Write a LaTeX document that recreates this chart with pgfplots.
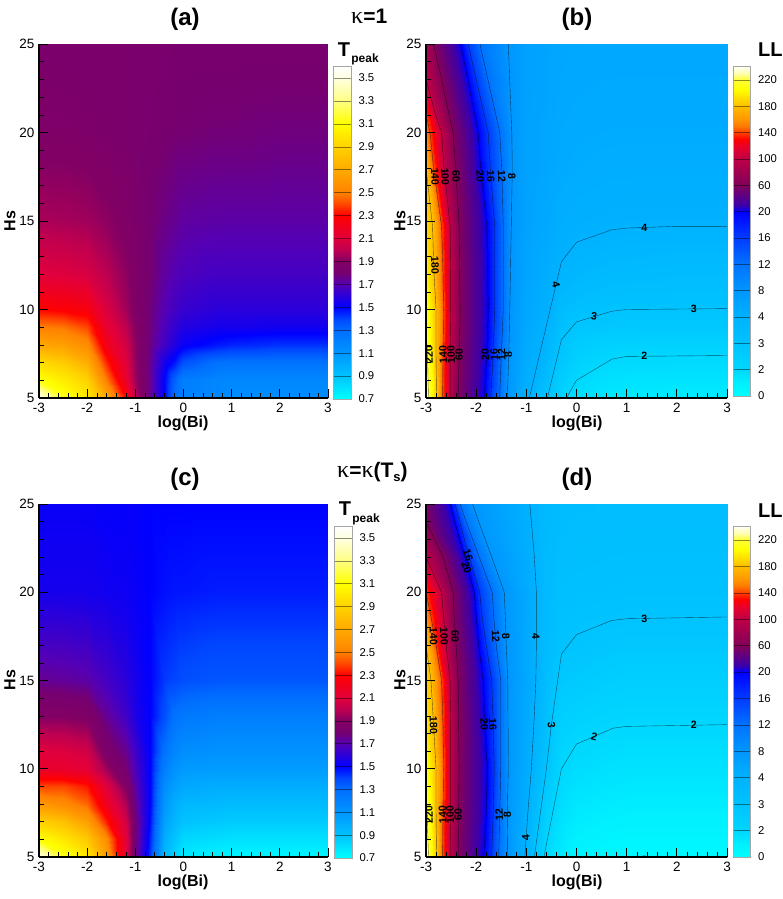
\documentclass[border=0pt]{standalone}
\usepackage{fontspec}
\setmainfont{Liberation Sans}
\newfontfamily\symfont{Liberation Serif}
\usepackage{pgfplots}
\pgfplotsset{compat=1.18}

% colour scales, stops in data units
\pgfplotsset{
  colormap={tpeak}{
    rgb255(0.7)=(0,255,255) rgb255(0.9)=(0,195,255) rgb255(1.1)=(0,150,255)
    rgb255(1.3)=(0,110,255) rgb255(1.4)=(0,70,255) rgb255(1.5)=(0,0,255)
    rgb255(1.7)=(85,0,180) rgb255(1.8)=(118,0,112) rgb255(1.9)=(130,0,100)
    rgb255(2.0)=(190,0,80) rgb255(2.1)=(225,0,60) rgb255(2.3)=(255,0,0)
    rgb255(2.4)=(255,70,0) rgb255(2.5)=(255,130,0) rgb255(2.7)=(255,170,0)
    rgb255(2.9)=(255,210,0) rgb255(3.1)=(255,255,0) rgb255(3.3)=(255,255,130)
    rgb255(3.5)=(255,255,225) rgb255(3.605)=(255,255,255)
  },
  colormap={ll}{
    rgb255(0)=(0,255,255) rgb255(1)=(0,240,255) rgb255(2)=(0,215,255)
    rgb255(3)=(0,195,255) rgb255(4)=(0,178,255) rgb255(8)=(0,150,255)
    rgb255(12)=(0,115,255) rgb255(16)=(0,60,255) rgb255(20)=(0,0,255)
    rgb255(30)=(60,0,170) rgb255(60)=(130,0,90) rgb255(100)=(190,0,70)
    rgb255(120)=(235,0,40) rgb255(130)=(255,0,0) rgb255(140)=(255,60,0)
    rgb255(150)=(255,120,0) rgb255(160)=(255,150,0)
    rgb255(180)=(255,190,0) rgb255(205)=(255,255,0) rgb255(220)=(255,255,50)
    rgb255(230)=(255,255,180) rgb255(240)=(255,255,250)
  },
  mainax/.style={
    scale only axis, anchor=south west,
    xmin=-3, xmax=3, ymin=5, ymax=25,
    xtick={-3,-2,-1,0,1,2,3}, ytick={5,10,15,20,25},
    minor tick num=4,
    axis x line*=bottom, axis y line*=left,
    axis line style={line width=1.2pt,-},
    tick align=inside,
    major tick length=9pt, minor tick length=4.5pt,
    every tick/.style={black,line width=0.9pt},
    minor tick style={line width=0.4pt,black},
    axis on top,
    tick label style={font=\fontsize{13.5}{14}\selectfont},
    /pgf/number format/assume math mode=true,
    xticklabel style={yshift=-2pt}, yticklabel style={xshift=-1pt},
    clip=true,
  },
  barax/.style={
    scale only axis, anchor=south west, width=17.5pt,
    xmin=0, xmax=1, xtick=\empty,
    yticklabel pos=right,
    major tick length=0pt,
    ymajorgrids, grid style={black,opacity=0.45,line width=0.5pt},
    axis on top, axis line style={black!35,line width=0.6pt},
    tick label style={font=\fontsize{11.3}{12}\selectfont},
    yticklabel style={xshift=4pt},
    /pgf/number format/assume math mode=true,
    clip=true,
  },
  tbar/.style={barax, ymin=0.7, ymax=3.605, colormap name=tpeak,
    point meta min=0.7, point meta max=3.605,
    ytick={0.7,0.9,1.1,1.3,1.5,1.7,1.9,2.1,2.3,2.5,2.7,2.9,3.1,3.3,3.5},
    yticklabels={0.7,0.9,1.1,1.3,1.5,1.7,1.9,2.1,2.3,2.5,2.7,2.9,3.1,3.3,3.5}},
  lbar/.style={barax, ymin=0, ymax=12.53, colormap name=ll,
    point meta min=0, point meta max=240,
    ytick={0,1,2,3,4,5,6,7,8,9,10,11,12},
    yticklabels={0,2,3,4,8,12,16,20,60,100,140,180,220}},
  cline/.style={black,opacity=0.6,line width=0.4pt,forget plot},
}
\tikzset{
  lab/.style={font=\fontsize{10.6}{11}\selectfont\bfseries,inner sep=0pt},
  ttl/.style={font=\fontsize{24}{24}\selectfont\bfseries},
  axl/.style={font=\fontsize{16}{16}\selectfont\bfseries},
}

\begin{document}
\begin{tikzpicture}
\path[use as bounding box] (0pt,0pt) rectangle (782pt,899pt);

% ---- (a) ----
\begin{axis}[mainax, at={(39pt,501pt)}, width=289pt, height=354pt,
  colormap name=tpeak, point meta min=0.7, point meta max=3.605]
\addplot[surf,shader=interp,mesh/cols=14,point meta=explicit] table[row sep=\\,meta=c] {
x y c\\
-3 5 3.55\\ -2.5 5 3.15\\ -2 5 3.0\\ -1.6 5 2.7\\ -1.2 5 2.3\\ -1 5 2.0\\ -.7 5 1.75\\ -.4 5 1.5\\ -.2 5 1.3\\ 0 5 1.2\\ .7 5 1.17\\ 1 5 1.15\\ 2 5 1.15\\ 3 5 1.15\\
-3 6 3.12\\ -2.5 6 3.02\\ -2 6 2.9\\ -1.6 6 2.5\\ -1.2 6 2.15\\ -1 6 1.95\\ -.7 6 1.75\\ -.4 6 1.5\\ -.2 6 1.33\\ 0 6 1.22\\ .7 6 1.18\\ 1 6 1.17\\ 2 6 1.17\\ 3 6 1.17\\
-3 7 2.95\\ -2.5 7 2.88\\ -2 7 2.72\\ -1.6 7 2.36\\ -1.2 7 2.1\\ -1 7 1.93\\ -.7 7 1.75\\ -.4 7 1.55\\ -.2 7 1.47\\ 0 7 1.37\\ .7 7 1.28\\ 1 7 1.27\\ 2 7 1.27\\ 3 7 1.27\\
-3 8 2.68\\ -2.5 8 2.65\\ -2 8 2.55\\ -1.6 8 2.22\\ -1.2 8 2.05\\ -1 8 1.92\\ -.7 8 1.77\\ -.4 8 1.65\\ -.2 8 1.58\\ 0 8 1.52\\ .7 8 1.47\\ 1 8 1.45\\ 2 8 1.43\\ 3 8 1.43\\
-3 9 2.5\\ -2.5 9 2.48\\ -2 9 2.4\\ -1.6 9 2.15\\ -1.2 9 2.0\\ -1 9 1.9\\ -.7 9 1.78\\ -.4 9 1.68\\ -.2 9 1.62\\ 0 9 1.58\\ .7 9 1.55\\ 1 9 1.55\\ 2 9 1.54\\ 3 9 1.54\\
-3 10 2.3\\ -2.5 10 2.28\\ -2 10 2.25\\ -1.6 10 2.08\\ -1.2 10 1.95\\ -1 10 1.88\\ -.7 10 1.78\\ -.4 10 1.7\\ -.2 10 1.66\\ 0 10 1.63\\ .7 10 1.6\\ 1 10 1.6\\ 2 10 1.6\\ 3 10 1.6\\
-3 12 2.1\\ -2.5 12 2.09\\ -2 12 2.07\\ -1.6 12 2.0\\ -1.2 12 1.92\\ -1 12 1.87\\ -.7 12 1.8\\ -.4 12 1.73\\ -.2 12 1.7\\ 0 12 1.68\\ .7 12 1.66\\ 1 12 1.66\\ 2 12 1.66\\ 3 12 1.66\\
-3 15 1.97\\ -2.5 15 1.96\\ -2 15 1.95\\ -1.6 15 1.92\\ -1.2 15 1.88\\ -1 15 1.85\\ -.7 15 1.8\\ -.4 15 1.77\\ -.2 15 1.75\\ 0 15 1.73\\ .7 15 1.72\\ 1 15 1.72\\ 2 15 1.72\\ 3 15 1.72\\
-3 20 1.87\\ -2.5 20 1.87\\ -2 20 1.86\\ -1.6 20 1.85\\ -1.2 20 1.84\\ -1 20 1.83\\ -.7 20 1.82\\ -.4 20 1.81\\ -.2 20 1.8\\ 0 20 1.8\\ .7 20 1.79\\ 1 20 1.79\\ 2 20 1.78\\ 3 20 1.78\\
-3 25 1.84\\ -2.5 25 1.84\\ -2 25 1.84\\ -1.6 25 1.84\\ -1.2 25 1.84\\ -1 25 1.83\\ -.7 25 1.83\\ -.4 25 1.83\\ -.2 25 1.82\\ 0 25 1.82\\ .7 25 1.82\\ 1 25 1.82\\ 2 25 1.82\\ 3 25 1.82\\
};
\end{axis}

% ---- (c) ----
\begin{axis}[mainax, at={(39pt,42pt)}, width=289pt, height=353pt,
  colormap name=tpeak, point meta min=0.7, point meta max=3.605]
\addplot[surf,shader=interp,mesh/cols=14,point meta=explicit] table[row sep=\\,meta=c] {
x y c\\
-3 5 3.55\\ -2.5 5 3.15\\ -2 5 3.0\\ -1.6 5 2.65\\ -1.2 5 2.1\\ -1 5 1.78\\ -.7 5 1.42\\ -.4 5 .95\\ -.2 5 .85\\ 0 5 .77\\ .7 5 .74\\ 1 5 .73\\ 2 5 .73\\ 3 5 .73\\
-3 6 3.1\\ -2.5 6 3.0\\ -2 6 2.85\\ -1.6 6 2.55\\ -1.2 6 2.1\\ -1 6 1.8\\ -.7 6 1.45\\ -.4 6 1.0\\ -.2 6 .9\\ 0 6 .83\\ .7 6 .81\\ 1 6 .8\\ 2 6 .8\\ 3 6 .8\\
-3 7 2.9\\ -2.5 7 2.82\\ -2 7 2.65\\ -1.6 7 2.35\\ -1.2 7 2.05\\ -1 7 1.8\\ -.7 7 1.48\\ -.4 7 1.05\\ -.2 7 .96\\ 0 7 .9\\ .7 7 .88\\ 1 7 .87\\ 2 7 .87\\ 3 7 .87\\
-3 8 2.6\\ -2.5 8 2.55\\ -2 8 2.45\\ -1.6 8 2.2\\ -1.2 8 1.97\\ -1 8 1.76\\ -.7 8 1.5\\ -.4 8 1.1\\ -.2 8 1.0\\ 0 8 .95\\ .7 8 .94\\ 1 8 .93\\ 2 8 .93\\ 3 8 .93\\
-3 9 2.4\\ -2.5 9 2.4\\ -2 9 2.33\\ -1.6 9 2.1\\ -1.2 9 1.88\\ -1 9 1.72\\ -.7 9 1.5\\ -.4 9 1.15\\ -.2 9 1.06\\ 0 9 1.02\\ .7 9 1.0\\ 1 9 1.0\\ 2 9 1.0\\ 3 9 1.0\\
-3 10 2.15\\ -2.5 10 2.15\\ -2 10 2.12\\ -1.6 10 1.95\\ -1.2 10 1.8\\ -1 10 1.68\\ -.7 10 1.5\\ -.4 10 1.22\\ -.2 10 1.12\\ 0 10 1.08\\ .7 10 1.07\\ 1 10 1.07\\ 2 10 1.07\\ 3 10 1.07\\
-3 11 2.1\\ -2.5 11 2.09\\ -2 11 2.05\\ -1.6 11 1.85\\ -1.2 11 1.75\\ -1 11 1.65\\ -.7 11 1.5\\ -.4 11 1.28\\ -.2 11 1.18\\ 0 11 1.14\\ .7 11 1.12\\ 1 11 1.12\\ 2 11 1.12\\ 3 11 1.12\\
-3 13 1.9\\ -2.5 13 1.9\\ -2 13 1.88\\ -1.6 13 1.75\\ -1.2 13 1.65\\ -1 13 1.57\\ -.7 13 1.5\\ -.4 13 1.38\\ -.2 13 1.28\\ 0 13 1.25\\ .7 13 1.22\\ 1 13 1.22\\ 2 13 1.22\\ 3 13 1.22\\
-3 15 1.75\\ -2.5 15 1.74\\ -2 15 1.72\\ -1.6 15 1.66\\ -1.2 15 1.6\\ -1 15 1.55\\ -.7 15 1.5\\ -.4 15 1.42\\ -.2 15 1.4\\ 0 15 1.38\\ .7 15 1.36\\ 1 15 1.36\\ 2 15 1.36\\ 3 15 1.36\\
-3 20 1.55\\ -2.5 20 1.55\\ -2 20 1.55\\ -1.6 20 1.54\\ -1.2 20 1.53\\ -1 20 1.52\\ -.7 20 1.5\\ -.4 20 1.48\\ -.2 20 1.47\\ 0 20 1.47\\ .7 20 1.46\\ 1 20 1.46\\ 2 20 1.46\\ 3 20 1.46\\
-3 25 1.52\\ -2.5 25 1.52\\ -2 25 1.52\\ -1.6 25 1.51\\ -1.2 25 1.51\\ -1 25 1.51\\ -.7 25 1.5\\ -.4 25 1.5\\ -.2 25 1.5\\ 0 25 1.5\\ .7 25 1.5\\ 1 25 1.5\\ 2 25 1.5\\ 3 25 1.5\\
};
\end{axis}

% ---- (b) ----
\begin{axis}[mainax, at={(426pt,501pt)}, width=301pt, height=354pt,
  colormap name=ll, point meta min=0, point meta max=240]
% columns: left edge, levels 220 180 140 100 60 20 16 12 8, then x=-1 -.6 -.3 0 .7 1 2 3
\addplot[surf,shader=interp,mesh/cols=18,point meta=explicit] table[row sep=\\,meta=c] {
x y c\\
-3 5 240\\ -2.95 5 220\\ -2.79 5 180\\ -2.67 5 140\\ -2.52 5 100\\ -2.36 5 60\\ -1.84 5 20\\ -1.71 5 16\\ -1.53 5 12\\ -1.38 5 8\\ -1 5 4.2\\ -.6 5 3.05\\ -.3 5 2.2\\ 0 5 1.7\\ .7 5 1.3\\ 1 5 1.2\\ 2 5 1.15\\ 3 5 1.15\\
-3 7.4 225\\ -2.97 7.4 220\\ -2.8 7.4 180\\ -2.66 7.4 140\\ -2.52 7.4 100\\ -2.34 7.4 60\\ -1.79 7.4 20\\ -1.66 7.4 16\\ -1.5 7.4 12\\ -1.35 7.4 8\\ -1 7.4 4.9\\ -.6 7.4 3.7\\ -.3 7.4 2.85\\ 0 7.4 2.35\\ .7 7.4 2.05\\ 1 7.4 2.02\\ 2 7.4 2\\ 3 7.4 2\\
-3 9 220\\ -3 9 220\\ -2.8 9 180\\ -2.65 9 140\\ -2.51 9 100\\ -2.32 9 60\\ -1.77 9 20\\ -1.64 9 16\\ -1.47 9 12\\ -1.33 9 8\\ -1 9 5.3\\ -.6 9 4.0\\ -.3 9 3.2\\ 0 9 2.9\\ .7 9 2.75\\ 1 9 2.72\\ 2 9 2.7\\ 3 9 2.7\\
-3 10 215\\ -3 10 215\\ -2.8 10 180\\ -2.65 10 140\\ -2.51 10 100\\ -2.32 10 60\\ -1.76 10 20\\ -1.63 10 16\\ -1.46 10 12\\ -1.33 10 8\\ -1 10 5.5\\ -.6 10 4.25\\ -.3 10 3.4\\ 0 10 3.2\\ .7 10 3.02\\ 1 10 3\\ 2 10 3\\ 3 10 3\\
-3 12 200\\ -3 12 200\\ -2.84 12 180\\ -2.66 12 140\\ -2.51 12 100\\ -2.33 12 60\\ -1.77 12 20\\ -1.63 12 16\\ -1.46 12 12\\ -1.31 12 8\\ -1 12 5.9\\ -.6 12 4.7\\ -.3 12 3.9\\ 0 12 3.65\\ .7 12 3.5\\ 1 12 3.45\\ 2 12 3.4\\ 3 12 3.4\\
-3 14.7 190\\ -3 14.7 190\\ -2.87 14.7 180\\ -2.69 14.7 140\\ -2.52 14.7 100\\ -2.34 14.7 60\\ -1.79 14.7 20\\ -1.63 14.7 16\\ -1.46 14.7 12\\ -1.3 14.7 8\\ -1 14.7 6.2\\ -.6 14.7 5.3\\ -.3 14.7 4.5\\ 0 14.7 4.2\\ .7 14.7 4.05\\ 1 14.7 4.02\\ 2 14.7 4\\ 3 14.7 4\\
-3 18 180\\ -3 18 180\\ -3 18 180\\ -2.85 18 140\\ -2.64 18 100\\ -2.41 18 60\\ -1.91 18 20\\ -1.72 18 16\\ -1.49 18 12\\ -1.28 18 8\\ -1 18 6.3\\ -.6 18 5.6\\ -.3 18 5\\ 0 18 4.8\\ .7 18 4.6\\ 1 18 4.6\\ 2 18 4.6\\ 3 18 4.6\\
-3 20 155\\ -3 20 155\\ -3 20 155\\ -2.92 20 140\\ -2.69 20 100\\ -2.46 20 60\\ -1.96 20 20\\ -1.76 20 16\\ -1.53 20 12\\ -1.29 20 8\\ -1 20 6.3\\ -.6 20 5.7\\ -.3 20 5.2\\ 0 20 5\\ .7 20 4.9\\ 1 20 4.9\\ 2 20 4.9\\ 3 20 4.9\\
-3 21 140\\ -3 21 140\\ -3 21 140\\ -3 21 140\\ -2.81 21 100\\ -2.54 21 60\\ -2.03 21 20\\ -1.84 21 16\\ -1.61 21 12\\ -1.3 21 8\\ -1 21 6.3\\ -.6 21 5.8\\ -.3 21 5.3\\ 0 21 5.1\\ .7 21 5\\ 1 21 5\\ 2 21 5\\ 3 21 5\\
-3 23 100\\ -3 23 100\\ -3 23 100\\ -3 23 100\\ -3 23 100\\ -2.69 23 60\\ -2.17 23 20\\ -2 23 16\\ -1.77 23 12\\ -1.33 23 8\\ -1 23 6.4\\ -.6 23 5.9\\ -.3 23 5.5\\ 0 23 5.3\\ .7 23 5.2\\ 1 23 5.2\\ 2 23 5.2\\ 3 23 5.2\\
-3 25 85\\ -3 25 85\\ -3 25 85\\ -3 25 85\\ -3 25 85\\ -2.85 25 60\\ -2.31 25 20\\ -2.16 25 16\\ -1.925 25 12\\ -1.36 25 8\\ -1 25 6.5\\ -.6 25 6\\ -.3 25 5.6\\ 0 25 5.5\\ .7 25 5.4\\ 1 25 5.4\\ 2 25 5.4\\ 3 25 5.4\\
};
% contour lines
\addplot[cline] coordinates {(-2.95,5)(-2.97,7.4)(-3,9)};
\addplot[cline] coordinates {(-2.79,5)(-2.8,7.4)(-2.8,10)(-2.84,12)(-2.87,14.7)(-3,18)};
\addplot[cline] coordinates {(-2.67,5)(-2.66,7.4)(-2.65,10)(-2.66,12)(-2.69,14.7)(-2.85,18)(-2.92,20)(-3,21)};
\addplot[cline] coordinates {(-2.52,5)(-2.52,7.4)(-2.51,10)(-2.51,12)(-2.52,14.7)(-2.64,18)(-2.69,20)(-2.81,21)(-3,23)};
\addplot[cline] coordinates {(-2.36,5)(-2.34,7.4)(-2.32,10)(-2.33,12)(-2.34,14.7)(-2.41,18)(-2.46,20)(-2.54,21)(-2.69,23)(-2.85,25)};
\addplot[cline] coordinates {(-1.84,5)(-1.79,7.4)(-1.76,10)(-1.77,12)(-1.79,14.7)(-1.91,18)(-1.96,20)(-2.31,25)};
\addplot[cline] coordinates {(-1.71,5)(-1.66,7.4)(-1.63,10)(-1.63,14.7)(-1.72,18)(-1.76,20)(-2.16,25)};
\addplot[cline] coordinates {(-1.53,5)(-1.5,7.4)(-1.46,10)(-1.46,14.7)(-1.49,18)(-1.53,20)(-1.925,25)};
\addplot[cline] coordinates {(-1.38,5)(-1.35,7.4)(-1.33,10)(-1.3,14.7)(-1.28,18)(-1.29,20)(-1.36,25)};
\addplot[cline] coordinates {(-.94,5)(-.3,12.7)(0,13.8)(.7,14.5)(1,14.6)(2,14.7)(3,14.7)};
\addplot[cline] coordinates {(-.58,5)(-.3,8.3)(0,9.3)(.7,9.9)(1,10)(3,10.05)};
\addplot[cline] coordinates {(-.2,5)(0,6)(.71,7.2)(1,7.35)(3,7.4)};
\foreach \x/\t in {-1.29/8,-1.49/12,-1.71/16,-1.92/20,-2.4/60,-2.62/100,-2.82/140}
  {\edef\tmp{\noexpand\node[lab,rotate=-88] at (axis cs:\x,17.5) {\t};}\tmp}
\foreach \x/\t in {-2.94/220,-2.66/140,-2.5/100,-2.34/60,-1.82/20,-1.64/16,-1.49/12,-1.36/8}
  {\edef\tmp{\noexpand\node[lab,rotate=92] at (axis cs:\x,7.45) {\t};}\tmp}
\node[lab,rotate=-88] at (axis cs:-2.82,12.5) {180};
\node[lab,rotate=-78] at (axis cs:-.41,11.4) {4};
\node[lab] at (axis cs:1.35,14.6) {4};
\node[lab,rotate=-8] at (axis cs:.35,9.6) {3};
\node[lab] at (axis cs:2.34,10.05) {3};
\node[lab] at (axis cs:1.35,7.4) {2};
\end{axis}

% ---- (d) ----
\begin{axis}[mainax, at={(426pt,42pt)}, width=301pt, height=353pt,
  colormap name=ll, point meta min=0, point meta max=240]
% columns: left edge, levels 220 180 140 100 60 20 16 12 8 4, then x=-.6 -.3 0 .7 1 2 3
\addplot[surf,shader=interp,mesh/cols=18,point meta=explicit] table[row sep=\\,meta=c] {
x y c\\
-3 5 240\\ -2.95 5 220\\ -2.79 5 180\\ -2.67 5 140\\ -2.52 5 100\\ -2.36 5 60\\ -1.85 5 20\\ -1.69 5 16\\ -1.55 5 12\\ -1.37 5 8\\ -1.03 5 4\\ -.6 5 1.9\\ -.3 5 1.2\\ 0 5 .7\\ .7 5 .5\\ 1 5 .45\\ 2 5 .45\\ 3 5 .45\\
-3 7.5 225\\ -2.98 7.5 220\\ -2.8 7.5 180\\ -2.66 7.5 140\\ -2.51 7.5 100\\ -2.35 7.5 60\\ -1.8 7.5 20\\ -1.66 7.5 16\\ -1.53 7.5 12\\ -1.38 7.5 8\\ -.97 7.5 4\\ -.6 7.5 2.4\\ -.3 7.5 1.65\\ 0 7.5 1.25\\ .7 7.5 1.05\\ 1 7.5 1\\ 2 7.5 1\\ 3 7.5 1\\
-3 9 220\\ -3 9 220\\ -2.8 9 180\\ -2.65 9 140\\ -2.51 9 100\\ -2.34 9 60\\ -1.78 9 20\\ -1.64 9 16\\ -1.51 9 12\\ -1.37 9 8\\ -.92 9 4\\ -.6 9 2.8\\ -.3 9 1.85\\ 0 9 1.6\\ .7 9 1.4\\ 1 9 1.35\\ 2 9 1.35\\ 3 9 1.35\\
-3 10 212\\ -3 10 212\\ -2.8 10 180\\ -2.65 10 140\\ -2.51 10 100\\ -2.34 10 60\\ -1.78 10 20\\ -1.64 10 16\\ -1.51 10 12\\ -1.36 10 8\\ -.9 10 4\\ -.6 10 3\\ -.3 10 2\\ 0 10 1.8\\ .7 10 1.6\\ 1 10 1.55\\ 2 10 1.55\\ 3 10 1.55\\
-3 12.5 195\\ -3 12.5 195\\ -2.85 12.5 180\\ -2.66 12.5 140\\ -2.51 12.5 100\\ -2.35 12.5 60\\ -1.83 12.5 20\\ -1.66 12.5 16\\ -1.51 12.5 12\\ -1.37 12.5 8\\ -.85 12.5 4\\ -.6 12.5 3.2\\ -.3 12.5 2.35\\ 0 12.5 2.2\\ .7 12.5 2.03\\ 1 12.5 2\\ 2 12.5 2\\ 3 12.5 2\\
-3 15 188\\ -3 15 188\\ -2.9 15 180\\ -2.69 15 140\\ -2.52 15 100\\ -2.36 15 60\\ -1.86 15 20\\ -1.69 15 16\\ -1.51 15 12\\ -1.37 15 8\\ -.81 15 4\\ -.6 15 3.35\\ -.3 15 2.75\\ 0 15 2.65\\ .7 15 2.45\\ 1 15 2.42\\ 2 15 2.42\\ 3 15 2.42\\
-3 17 180\\ -3 17 180\\ -3 17 180\\ -2.8 17 140\\ -2.6 17 100\\ -2.4 17 60\\ -1.95 17 20\\ -1.8 17 16\\ -1.6 17 12\\ -1.4 17 8\\ -.8 17 4\\ -.6 17 3.4\\ -.3 17 3.03\\ 0 17 2.95\\ .7 17 2.8\\ 1 17 2.75\\ 2 17 2.75\\ 3 17 2.75\\
-3 18.6 160\\ -3 18.6 160\\ -3 18.6 160\\ -2.9 18.6 140\\ -2.65 18.6 100\\ -2.44 18.6 60\\ -2 18.6 20\\ -1.88 18.6 16\\ -1.65 18.6 12\\ -1.42 18.6 8\\ -.8 18.6 4\\ -.6 18.6 3.45\\ -.3 18.6 3.13\\ 0 18.6 3.07\\ .7 18.6 3.02\\ 1 18.6 3\\ 2 18.6 3\\ 3 18.6 3\\
-3 20 140\\ -3 20 140\\ -3 20 140\\ -3 20 140\\ -2.69 20 100\\ -2.46 20 60\\ -2.04 20 20\\ -1.93 20 16\\ -1.68 20 12\\ -1.44 20 8\\ -.8 20 4\\ -.6 20 3.5\\ -.3 20 3.2\\ 0 20 3.15\\ .7 20 3.12\\ 1 20 3.1\\ 2 20 3.1\\ 3 20 3.1\\
-3 22 100\\ -3 22 100\\ -3 22 100\\ -3 22 100\\ -3 22 100\\ -2.66 22 60\\ -2.23 22 20\\ -2.14 22 16\\ -1.94 22 12\\ -1.69 22 8\\ -.84 22 4\\ -.6 22 3.5\\ -.3 22 3.3\\ 0 22 3.25\\ .7 22 3.2\\ 1 22 3.2\\ 2 22 3.2\\ 3 22 3.2\\
-3 24 60\\ -3 24 60\\ -3 24 60\\ -3 24 60\\ -3 24 60\\ -3 24 60\\ -2.43 24 20\\ -2.33 24 16\\ -2.2 24 12\\ -1.95 24 8\\ -.9 24 4\\ -.6 24 3.55\\ -.3 24 3.35\\ 0 24 3.3\\ .7 24 3.3\\ 1 24 3.28\\ 2 24 3.28\\ 3 24 3.28\\
-3 25 55\\ -3 25 55\\ -3 25 55\\ -3 25 55\\ -3 25 55\\ -3 25 55\\ -2.52 25 20\\ -2.42 25 16\\ -2.32 25 12\\ -2.07 25 8\\ -.93 25 4\\ -.6 25 3.6\\ -.3 25 3.4\\ 0 25 3.35\\ .7 25 3.3\\ 1 25 3.3\\ 2 25 3.3\\ 3 25 3.3\\
};
\addplot[cline] coordinates {(-2.95,5)(-2.98,7.5)(-3,9)};
\addplot[cline] coordinates {(-2.79,5)(-2.8,7.5)(-2.8,10)(-2.85,12.5)(-2.9,15)(-3,17)};
\addplot[cline] coordinates {(-2.67,5)(-2.66,7.5)(-2.65,10)(-2.66,12.5)(-2.69,15)(-2.8,17)(-2.9,18.6)(-3,20)};
\addplot[cline] coordinates {(-2.52,5)(-2.51,7.5)(-2.51,12.5)(-2.52,15)(-2.6,17)(-2.65,18.6)(-2.69,20)(-3,22)};
\addplot[cline] coordinates {(-2.36,5)(-2.35,7.5)(-2.34,10)(-2.35,12.5)(-2.36,15)(-2.4,17)(-2.44,18.6)(-2.46,20)(-2.66,22)(-3,24)};
\addplot[cline] coordinates {(-1.85,5)(-1.8,7.5)(-1.78,10)(-1.83,12.5)(-1.86,15)(-1.95,17)(-2,18.6)(-2.04,20)(-2.23,22)(-2.43,24)(-2.52,25)};
\addplot[cline] coordinates {(-1.69,5)(-1.66,7.5)(-1.64,10)(-1.66,12.5)(-1.69,15)(-1.8,17)(-1.88,18.6)(-1.93,20)(-2.14,22)(-2.33,24)(-2.42,25)};
\addplot[cline] coordinates {(-1.55,5)(-1.53,7.5)(-1.51,10)(-1.51,15)(-1.6,17)(-1.65,18.6)(-1.68,20)(-1.94,22)(-2.2,24)(-2.32,25)};
\addplot[cline] coordinates {(-1.37,5)(-1.38,7.5)(-1.36,10)(-1.37,15)(-1.4,17)(-1.42,18.6)(-1.44,20)(-1.69,22)(-1.95,24)(-2.07,25)};
\addplot[cline] coordinates {(-1.03,5)(-.97,7.5)(-.9,10)(-.85,12.5)(-.81,15)(-.8,17)(-.8,20)(-.84,22)(-.9,24)(-.93,25)};
\addplot[cline] coordinates {(-.84,5)(-.6,10)(-.5,12.5)(-.3,16.5)(0,17.6)(.7,18.4)(1,18.5)(3,18.6)};
\addplot[cline] coordinates {(-.65,5)(-.3,10)(0,11.4)(.73,12.3)(1,12.4)(3,12.5)};
\foreach \x/\t in {-1.41/8,-1.61/12,-2.42/60,-2.64/100,-2.85/140,-.81/4}
  {\edef\tmp{\noexpand\node[lab,rotate=-88] at (axis cs:\x,17.5) {\t};}\tmp}
\foreach \x/\t in {-2.94/220,-2.67/140,-2.52/100,-2.36/60,-1.54/12,-1.38/8}
  {\edef\tmp{\noexpand\node[lab,rotate=92] at (axis cs:\x,7.4) {\t};}\tmp}
\node[lab,rotate=92] at (axis cs:-1.01,6.1) {4};
\node[lab,rotate=-72] at (axis cs:-2.16,22.1) {16};
\node[lab,rotate=-72] at (axis cs:-2.19,21.4) {20};
\node[lab,rotate=-88] at (axis cs:-2.85,12.45) {180};
\node[lab,rotate=-88] at (axis cs:-1.84,12.5) {20};
\node[lab,rotate=-88] at (axis cs:-1.67,12.5) {16};
\node[lab,rotate=-85] at (axis cs:-.5,12.5) {3};
\node[lab,rotate=-15] at (axis cs:.35,11.8) {2};
\node[lab] at (axis cs:1.35,18.5) {3};
\node[lab] at (axis cs:2.34,12.5) {2};
\begin{scope}
\clip (axis cs:1,5) rectangle (axis cs:1.7,6);
\node[lab] at (axis cs:1.35,4.85) {2};
\end{scope}
\end{axis}

% ---- colour bars ----
\begin{axis}[tbar, at={(333.5pt,500pt)}, height=333pt]
\addplot[surf,shader=interp,mesh/cols=2,point meta=explicit] table[row sep=\\,meta=c] {
x y c\\ 0 .7 .7\\ 1 .7 .7\\ 0 3.605 3.605\\ 1 3.605 3.605\\};
\end{axis}
\begin{axis}[tbar, at={(334.5pt,41pt)}, height=332pt]
\addplot[surf,shader=interp,mesh/cols=2,point meta=explicit] table[row sep=\\,meta=c] {
x y c\\ 0 .7 .7\\ 1 .7 .7\\ 0 3.605 3.605\\ 1 3.605 3.605\\};
\end{axis}
\begin{axis}[lbar, at={(733pt,503pt)}, height=330pt]
\addplot[surf,shader=interp,mesh/cols=2,point meta=explicit] table[row sep=\\,meta=c] {
x y c\\ 0 0 0\\ 1 0 0\\ 0 1 2\\ 1 1 2\\ 0 2 3\\ 1 2 3\\ 0 3 4\\ 1 3 4\\ 0 4 8\\ 1 4 8\\ 0 5 12\\ 1 5 12\\ 0 6 16\\ 1 6 16\\ 0 7 20\\ 1 7 20\\ 0 8 60\\ 1 8 60\\ 0 9 100\\ 1 9 100\\ 0 10 140\\ 1 10 140\\ 0 11 180\\ 1 11 180\\ 0 12 220\\ 1 12 220\\ 0 12.53 240\\ 1 12.53 240\\};
\end{axis}
\begin{axis}[lbar, at={(733pt,42pt)}, height=331pt]
\addplot[surf,shader=interp,mesh/cols=2,point meta=explicit] table[row sep=\\,meta=c] {
x y c\\ 0 0 0\\ 1 0 0\\ 0 1 2\\ 1 1 2\\ 0 2 3\\ 1 2 3\\ 0 3 4\\ 1 3 4\\ 0 4 8\\ 1 4 8\\ 0 5 12\\ 1 5 12\\ 0 6 16\\ 1 6 16\\ 0 7 20\\ 1 7 20\\ 0 8 60\\ 1 8 60\\ 0 9 100\\ 1 9 100\\ 0 10 140\\ 1 10 140\\ 0 11 180\\ 1 11 180\\ 0 12 220\\ 1 12 220\\ 0 12.53 240\\ 1 12.53 240\\};
\end{axis}

% ---- titles and axis names ----
\node[ttl] at (185pt,880pt) {(a)};
\node[ttl] at (577pt,880pt) {(b)};
\node[ttl] at (185pt,420pt) {(c)};
\node[ttl] at (577pt,420pt) {(d)};
\foreach \xx/\yy in {183/476,577/476,183/17,577/17}
  {\node[axl] at (\xx pt,\yy pt) {log(Bi)};}
\foreach \xx/\yy in {10/678,400/678,10/219,400/219}
  {\node[axl,rotate=90] at (\xx pt,\yy pt) {Hs};}
\node[anchor=west,inner sep=0pt,font=\fontsize{21}{22}\selectfont\bfseries] at (351pt,883pt) {{\symfont\mdseries\fontsize{24}{24}\selectfont κ}=1};
\node[anchor=west,inner sep=0pt,font=\fontsize{21}{22}\selectfont\bfseries] at (337pt,427pt) {{\symfont\mdseries\fontsize{24}{24}\selectfont κ}={\symfont\mdseries\fontsize{24}{24}\selectfont κ}(T\raisebox{-4pt}{\fontsize{13}{13}\selectfont s})};
\node[font=\fontsize{20}{20}\selectfont\bfseries] at (344pt,849pt) {T};
\node[font=\fontsize{12}{12}\selectfont\bfseries] at (365pt,840pt) {peak};
\node[font=\fontsize{20}{20}\selectfont\bfseries] at (345pt,390pt) {T};
\node[font=\fontsize{12}{12}\selectfont\bfseries] at (366pt,380pt) {peak};
\node[anchor=west,inner sep=0pt,font=\fontsize{20}{20}\selectfont\bfseries] at (758pt,849pt) {LL};
\node[anchor=west,inner sep=0pt,font=\fontsize{20}{20}\selectfont\bfseries] at (758pt,388pt) {LL};
\end{tikzpicture}
\end{document}
